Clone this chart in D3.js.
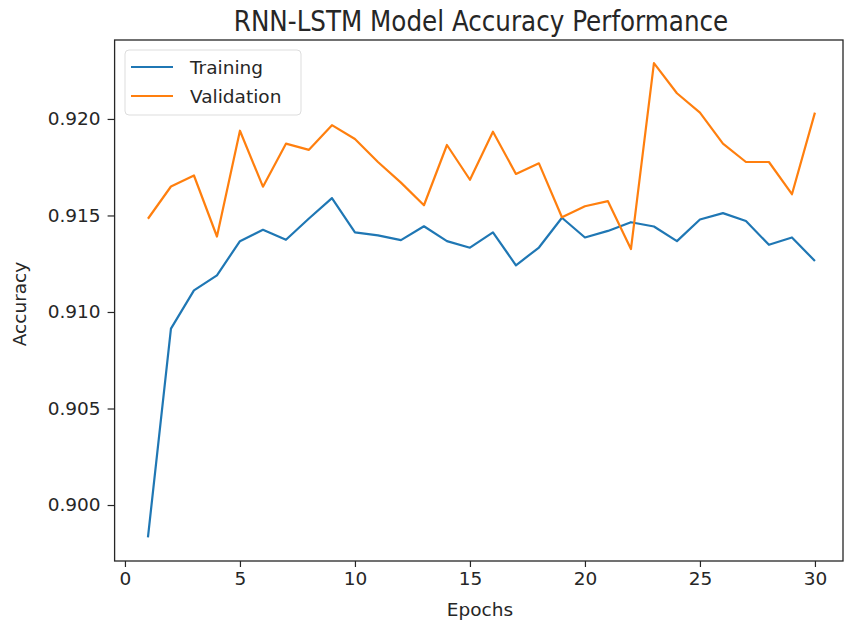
<!DOCTYPE html>
<html>
<head>
<meta charset="utf-8">
<script src="https://cdn.jsdelivr.net/npm/d3@7"></script>
<style>
  body { margin: 0; background: #fff; }
  text { font-family: "DejaVu Sans", sans-serif; fill: #262626; }
</style>
</head>
<body>
<svg id="canvas"></svg>
<script>
// data
const epochs = d3.range(1, 31);
const training = [0.89833, 0.90914, 0.91112, 0.9119, 0.91367, 0.91426, 0.91374, 0.91484, 0.91590, 0.91412,
                  0.91397, 0.91372, 0.91444, 0.91367, 0.91333, 0.91412, 0.91242, 0.91334, 0.91488, 0.91386,
                  0.91420, 0.91465, 0.91443, 0.91367, 0.91479, 0.91512, 0.91471, 0.91348, 0.91386, 0.91264];
const validation = [0.91483, 0.91650, 0.91707, 0.91391, 0.91939, 0.91649, 0.91872, 0.91840, 0.91968, 0.91896,
                    0.91777, 0.91670, 0.91553, 0.91865, 0.91685, 0.91934, 0.91715, 0.91770, 0.91491, 0.91548,
                    0.91574, 0.91326, 0.92289, 0.92133, 0.92033, 0.91872, 0.91777, 0.91777, 0.91610, 0.92033];
const xTicks = [0, 5, 10, 15, 20, 25, 30];
const yTicks = [0.900, 0.905, 0.910, 0.915, 0.920];
const seriesNames = ["Training", "Validation"];
const colors = ["#1f77b4", "#ff7f0e"];

const width = 845, height = 626;
const svg = d3.select("#canvas").attr("width", width).attr("height", height);

// plot box
const marginLeft = 114.6, plotRight = 843, plotTop = 40, plotBottom = 561;

const xScale = d3.scaleLinear().domain([-0.45, 31.22]).range([marginLeft, plotRight]);
const yScale = d3.scaleLinear().domain([0.89710, 0.92409]).range([plotBottom, plotTop]);

// lines
const line = d3.line()
    .x((d, i) => xScale(epochs[i]))
    .y(d => yScale(d));

[training, validation].forEach((s, k) => {
    svg.append("path")
        .datum(s)
        .attr("fill", "none")
        .attr("stroke", colors[k])
        .attr("stroke-width", 2.2)
        .attr("stroke-linejoin", "round")
        .attr("d", line);
});

// frame
svg.append("rect")
    .attr("x", marginLeft).attr("y", plotTop)
    .attr("width", plotRight - marginLeft).attr("height", plotBottom - plotTop)
    .attr("fill", "none").attr("stroke", "#262626").attr("stroke-width", 1.3);

// axes
const xAxis = svg.append("g")
    .attr("transform", `translate(0,${plotBottom})`)
    .call(d3.axisBottom(xScale).tickValues(xTicks).tickSize(6).tickPadding(5).tickFormat(d3.format("d")));
const yAxis = svg.append("g")
    .attr("transform", `translate(${marginLeft},0)`)
    .call(d3.axisLeft(yScale).tickValues(yTicks).tickSize(7).tickPadding(7).tickFormat(d3.format(".3f")));
[xAxis, yAxis].forEach(a => {
    a.select(".domain").remove();
    a.selectAll(".tick line").attr("stroke", "#262626").attr("stroke-width", 1.2);
    a.selectAll(".tick text").style("font-size", "18.5px").attr("fill", "#262626");
});

// title and labels
svg.append("text")
    .attr("transform", "translate(481,30.5) scale(0.88,1)")
    .attr("text-anchor", "middle")
    .style("font-size", "28px")
    .text("RNN-LSTM Model Accuracy Performance");

svg.append("text")
    .attr("x", 480).attr("y", 616)
    .attr("text-anchor", "middle")
    .style("font-size", "18.5px")
    .text("Epochs");

svg.append("text")
    .attr("transform", `translate(26,304) rotate(-90)`)
    .attr("text-anchor", "middle")
    .style("font-size", "18.5px")
    .text("Accuracy");

// legend
const legend = svg.append("g").attr("transform", "translate(125,50)");
legend.append("rect")
    .attr("width", 176).attr("height", 65).attr("rx", 4)
    .attr("fill", "#fff").attr("fill-opacity", 0.8)
    .attr("stroke", "#ddd");
seriesNames.forEach((name, i) => {
    const y = 17 + i * 29;
    legend.append("line")
        .attr("x1", 6).attr("x2", 48).attr("y1", y).attr("y2", y)
        .attr("stroke", colors[i]).attr("stroke-width", 2.2);
    legend.append("text")
        .attr("x", 65).attr("y", y + 6.5)
        .style("font-size", "18.5px")
        .text(name);
});
</script>
</body>
</html>
